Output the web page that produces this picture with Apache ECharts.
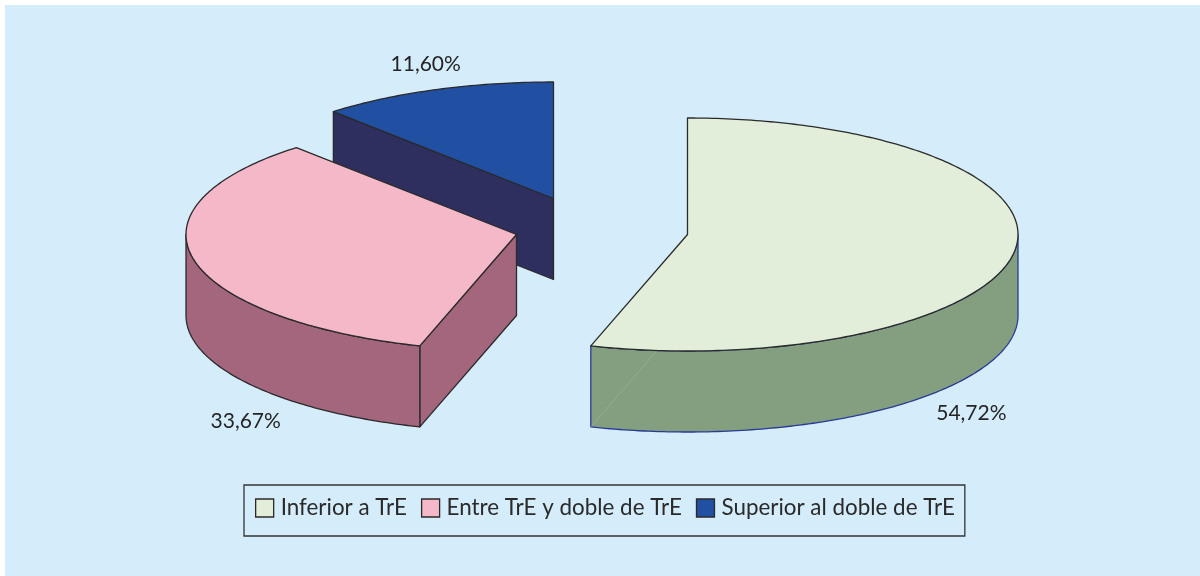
<!DOCTYPE html>
<html><head><meta charset="utf-8">
<style>html,body{margin:0;padding:0;background:#fff}#c{width:1200px;height:576px}</style>
<script src="https://cdn.jsdelivr.net/npm/echarts@6/dist/echarts.min.js"></script>
</head><body><div id="c"></div>
<script>
const categories = ['Inferior a TrE', 'Entre TrE y doble de TrE', 'Superior al doble de TrE'];
const shares = [54.72, 33.67, 11.60];
const topColors = ['#e2eeda', '#f4b8c8', '#2150a3'];
const sideColors = ['#839f80', '#a4667c', '#2e2f5f'];
const edgeColors = ['#2a3a96', '#2a2a2a', '#2a2a2a'];
const centers = [[687.5, 234.5], [516.5, 234.5], [553.5, 198.5]];
const labelOffsets = [[-43, 162], [52, 162], [-10, -25]];
const RX = 330.5, RY = 116.5, DEPTH = 81;
const FONT = 'Lato, "Open Sans", sans-serif';

const total = shares.reduce((a, b) => a + b, 0);
const starts = [];
shares.reduce((acc, v, i) => { starts[i] = acc; return acc + v / total * 2 * Math.PI; }, 0);

function pt(c, t, dy) { return [c[0] + RX * Math.sin(t), c[1] - RY * Math.cos(t) + (dy || 0)]; }
function arc(c, a, b, dy) {
  const n = Math.max(2, Math.ceil(Math.abs(b - a) / 0.015)), out = [];
  for (let k = 0; k <= n; k++) out.push(pt(c, a + (b - a) * k / n, dy));
  return out;
}
function poly(points, fill, stroke, w) {
  return { type: 'polygon', shape: { points }, style: { fill, stroke, lineWidth: w === undefined ? 1.3 : w, lineJoin: 'round' } };
}
function renderSlice(i) {
  return function (params, api) {
    const v = api.value(0);
    const a0 = starts[i], a1 = a0 + v / total * 2 * Math.PI, c = centers[i];
    const kids = [];
    const side = sideColors[i], edge = edgeColors[i];
    // visible cut face: the start of the slice, when it faces the viewer
    if (a0 > Math.PI && a0 < 2 * Math.PI) {
      const p = pt(c, a0);
      kids.push(poly([c, p, [p[0], p[1] + DEPTH], [c[0], c[1] + DEPTH]], side, edge));
    }
    // visible outer wall: the part of the rim in the lower half of the ellipse
    const wa = Math.max(a0, Math.PI / 2), wb = Math.min(a1, 3 * Math.PI / 2);
    if (wb > wa) {
      kids.push(poly(arc(c, wa, wb, 0).concat(arc(c, wb, wa, DEPTH)), side, edge));
    }
    if (i === 0) {
      // faint seam on the outer wall
      const p = pt(c, a1, DEPTH), q = pt(c, a1);
      kids.push({ type: 'line', shape: { x1: p[0], y1: p[1], x2: p[0] + (c[0] - q[0]) * 0.69, y2: p[1] + (c[1] - q[1]) * 0.69 },
        style: { stroke: '#9fb59c', lineWidth: 0.6 } });
    }
    // top face
    kids.push(poly([c].concat(arc(c, a0, a1, 0)), topColors[i], '#2a2a2a'));
    // label
    const m = pt(c, (a0 + a1) / 2), off = labelOffsets[i];
    kids.push({ type: 'text', style: { x: m[0] + off[0], y: m[1] + off[1], text: v.toFixed(2).replace('.', ',') + '%',
      font: '21px ' + FONT, fill: '#242424', align: 'center', verticalAlign: 'middle' } });
    return { type: 'group', children: kids };
  };
}

const order = [2, 1, 0];
const chart = echarts.init(document.getElementById('c'), null, { renderer: 'canvas' });
chart.setOption({
  animation: false,
  backgroundColor: '#ffffff',
  graphic: [{ type: 'rect', z: -10, shape: { x: 5, y: 5, width: 1195, height: 571 }, style: { fill: '#d5edfb' } }],
  legend: {
    data: categories,
    left: 244, top: 485,
    orient: 'horizontal',
    selectedMode: false,
    padding: [12, 10, 17, 11],
    itemWidth: 18, itemHeight: 18, itemGap: 14,
    icon: 'rect',
    borderColor: '#333333', borderWidth: 1.3,
    itemStyle: { borderColor: '#2a2a2a', borderWidth: 1.3 },
    textStyle: { fontFamily: FONT, fontSize: 22.4, color: '#2a2a2a', padding: [0, 0, 0, 2] }
  },
  series: order.map(i => ({
    type: 'custom',
    name: categories[i],
    coordinateSystem: 'none',
    silent: true,
    itemStyle: { color: topColors[i] },
    data: [[shares[i]]],
    renderItem: renderSlice(i)
  }))
});
</script></body></html>
